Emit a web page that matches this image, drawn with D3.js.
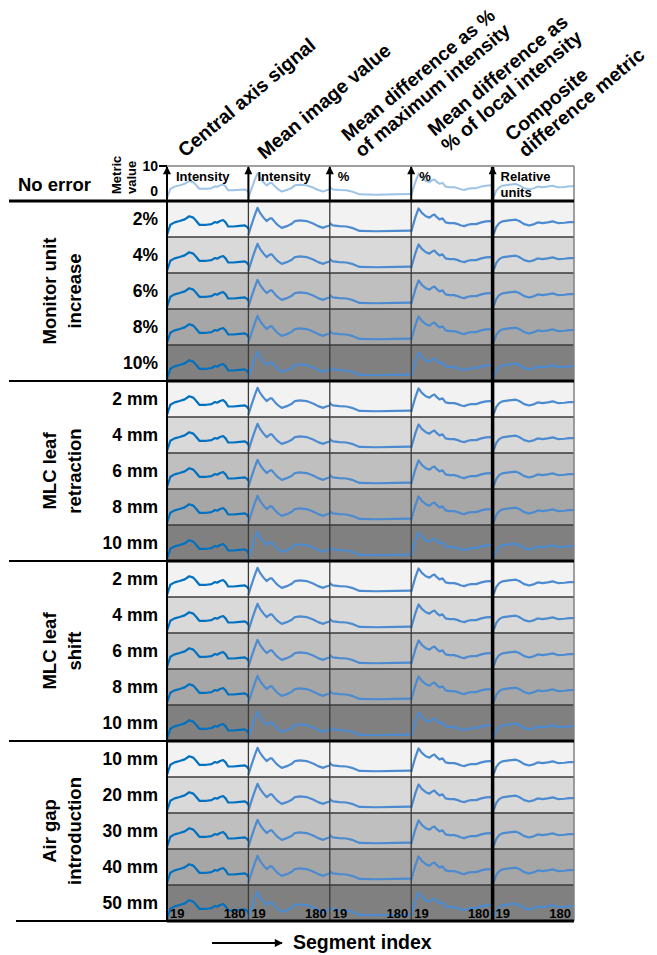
<!DOCTYPE html>
<html>
<head>
<meta charset="utf-8">
<script src="https://cdn.jsdelivr.net/npm/d3@7"></script>
<style>
  body { margin: 0; background: #fff; }
  svg text { font-family: Arial, "Liberation Sans", sans-serif; font-weight: bold; fill: #000; }
</style>
</head>
<body>
<div id="chart"></div>
<script>
// ---- data ----
const metrics = ['central', 'mean', 'diffMax', 'diffLocal', 'composite'];
const metricTitles = [
  ['Central axis signal'],
  ['Mean image value'],
  ['Mean difference as %', 'of maximum intensity'],
  ['Mean difference as', '% of local intensity'],
  ['Composite', 'difference metric']
];
const unitLabels = [['Intensity'], ['Intensity'], ['%'], ['%'], ['Relative', 'units']];

const groupNames = [['Monitor unit', 'increase'], ['MLC leaf', 'retraction'], ['MLC leaf', 'shift'], ['Air gap', 'introduction']];
const levels = [
  ['2%', '4%', '6%', '8%', '10%'],
  ['2 mm', '4 mm', '6 mm', '8 mm', '10 mm'],
  ['2 mm', '4 mm', '6 mm', '8 mm', '10 mm'],
  ['10 mm', '20 mm', '30 mm', '40 mm', '50 mm']
];
const headerLabel = 'No error';

const segTicks = [19, 180];
const metricTicks = [0, 10];

// segment index / metric value per metric
const segCentral = [19, 25.6, 34, 44, 54, 63, 71, 77, 83, 97, 107, 114, 118, 124, 130, 135, 140, 150, 163, 173, 178, 180];
const valCentral = [0.3, 3.3, 4.0, 4.4, 4.9, 5.8, 5.4, 4.4, 3.3, 3.3, 3.5, 4.1, 3.9, 4.4, 4.7, 4.0, 2.8, 2.8, 3.0, 3.1, 2.6, 2.1];

const segMean = [19, 23.6, 32, 37, 42, 49, 55, 62, 65, 72, 78, 85, 95, 104, 111, 121, 134, 147, 157, 167, 173, 180];
const valMean = [0.3, 2.6, 6.3, 8.3, 6.8, 5.4, 4.4, 5.2, 5.2, 4.0, 3.1, 2.4, 2.9, 3.5, 4.4, 4.6, 4.4, 3.7, 2.9, 2.4, 2.8, 3.1];

const segDiffMax = [19, 21, 25, 38, 52, 65, 78, 111, 150, 180];
const valDiffMax = [3.9, 3.5, 3.1, 2.9, 2.8, 2.3, 1.5, 1.4, 1.5, 1.6];

const segDiffLocal = [19, 21.6, 27, 33.6, 40, 48, 55, 61, 65, 69, 75, 81, 87, 94.5, 104, 111, 118, 124, 131, 138, 147.5, 157.5, 167, 177, 180];
const valDiffLocal = [1.2, 2.6, 5.4, 8.1, 6.8, 5.8, 5.4, 6.1, 6.3, 5.6, 4.9, 5.2, 4.0, 3.8, 3.8, 3.5, 3.1, 2.9, 3.3, 3.5, 3.5, 4.0, 4.3, 4.4, 4.4];

const segComposite = [20, 22, 26, 31.6, 38, 51.6, 65, 71.6, 81.5, 91.5, 101.5, 108, 118, 128, 138, 148, 161, 171, 180];
const valComposite = [0.5, 0.9, 2.6, 3.7, 4.3, 4.6, 4.8, 4.4, 3.5, 3.1, 3.5, 4.0, 3.8, 4.0, 4.3, 3.8, 3.9, 4.1, 4.1];

const seriesSeg = [segCentral, segMean, segDiffMax, segDiffLocal, segComposite];
const seriesVal = [valCentral, valMean, valDiffMax, valDiffLocal, valComposite];

// ---- layout ----
const width = 657, height = 955;
const gridLeft = 167, gridRight = 574;
const headTop = 166, headBottom = 201, rowH = 36;
const rowFills = ['#f2f2f2', '#d9d9d9', '#bfbfbf', '#a6a6a6', '#808080'];
const lineColors = ['#0070c0', '#4d8bd0', '#4d8bd0', '#4d8bd0', '#4d8bd0'];
const headLineColor = '#9dc3e6';

const svg = d3.select('#chart').append('svg')
  .attr('width', width)
  .attr('height', height);

const defs = svg.append('defs');
defs.append('marker')
  .attr('id', 'arrow')
  .attr('viewBox', '0 0 10 10')
  .attr('refX', 9).attr('refY', 5)
  .attr('markerWidth', 10).attr('markerHeight', 8)
  .attr('markerUnits', 'userSpaceOnUse')
  .attr('orient', 'auto')
  .append('path').attr('d', 'M0,0L10,5L0,10Z').attr('fill', '#000');

const col = d3.scaleBand().domain(metrics).range([gridLeft, gridRight]);
const nRows = groupNames.length * 5;
const rowY = d3.scaleLinear().domain([0, nRows]).range([headBottom, headBottom + nRows * rowH]);
const gridBottom = rowY(nRows);

const cellX = m => d3.scaleLinear().domain(segTicks).range([col(m), col(m) + col.bandwidth()]);

function drawCurves(g, yScale, colorFn, sw) {
  metrics.forEach((m, i) => {
    const x = cellX(m);
    const pts = seriesSeg[i].map((s, k) => [s, seriesVal[i][k]]);
    g.append('path')
      .datum(pts)
      .attr('fill', 'none')
      .attr('stroke', colorFn(i))
      .attr('stroke-width', sw)
      .attr('stroke-linejoin', 'round')
      .attr('d', d3.line().x(d => x(d[0])).y(d => yScale(d[1])));
  });
}

// ---- header row (no error) ----
const head = svg.append('g');
const headY = d3.scaleLinear().domain(metricTicks).range([headBottom - 2, headTop + 2]);
drawCurves(head, headY, () => headLineColor, 2);

head.append('line')
  .attr('x1', gridLeft - 8).attr('x2', gridRight)
  .attr('y1', headTop).attr('y2', headTop)
  .attr('stroke', '#808080').attr('stroke-width', 1.5);
head.append('line')
  .attr('x1', gridLeft - 8).attr('x2', gridLeft)
  .attr('y1', headTop).attr('y2', headTop)
  .attr('stroke', '#000').attr('stroke-width', 2);
head.append('line')
  .attr('x1', gridRight).attr('x2', gridRight)
  .attr('y1', headTop).attr('y2', headBottom)
  .attr('stroke', '#808080').attr('stroke-width', 1.5);

metrics.forEach((m, i) => {
  head.append('line')
    .attr('x1', col(m)).attr('x2', col(m))
    .attr('y1', headBottom).attr('y2', headTop + 1)
    .attr('stroke', '#000')
    .attr('stroke-width', i === 4 ? 3.5 : 2)
    .attr('marker-end', 'url(#arrow)');
  unitLabels[i].forEach((t, j) => {
    head.append('text')
      .attr('x', col(m) + (i < 2 ? 9 : 8))
      .attr('y', headTop + 15 + j * 16)
      .attr('font-size', 13)
      .text(t);
  });
});

head.selectAll('.mtick')
  .data(metricTicks)
  .join('text')
  .attr('x', gridLeft - 9)
  .attr('y', d => d === 0 ? headY(d) - 3 : headY(d) + 3)
  .attr('text-anchor', 'end')
  .attr('font-size', 14)
  .text(d => d);

const mv = head.append('g').attr('transform', `translate(121,${headBottom - 7}) rotate(-90)`);
mv.append('text').attr('font-size', 13).text('Metric');
mv.append('text').attr('y', 15).attr('font-size', 13).text('value');

head.append('text')
  .attr('x', 18).attr('y', (headTop + headBottom) / 2 + 7)
  .attr('font-size', 18.5)
  .text(headerLabel);

// ---- data rows ----
const body = svg.append('g');
levels.forEach((lv, gi) => {
  lv.forEach((label, li) => {
    const r = gi * 5 + li;
    const top = rowY(r), bot = rowY(r + 1);
    body.append('rect')
      .attr('x', gridLeft).attr('y', top)
      .attr('width', gridRight - gridLeft).attr('height', rowH)
      .attr('fill', rowFills[li]);
    const y = d3.scaleLinear().domain(metricTicks).range([bot - 1, top + 1]);
    drawCurves(body, y, i => lineColors[i], 2.2);
    body.append('text')
      .attr('x', 158).attr('y', (top + bot) / 2 + 6)
      .attr('text-anchor', 'end')
      .attr('font-size', 17.5)
      .text(label);
  });
});

// row separators
const seps = d3.range(1, nRows);
body.selectAll('.rowsep')
  .data(seps.filter(d => d % 5 !== 0))
  .join('line')
  .attr('x1', gridLeft).attr('x2', gridRight)
  .attr('y1', d => rowY(d)).attr('y2', d => rowY(d))
  .attr('stroke', '#3a3a3a').attr('stroke-width', 1.3);

// column separators
metrics.forEach((m, i) => {
  body.append('line')
    .attr('x1', col(m)).attr('x2', col(m))
    .attr('y1', headBottom).attr('y2', gridBottom)
    .attr('stroke', i === 0 || i === 4 ? '#000' : '#3a3a3a')
    .attr('stroke-width', i === 4 ? 3.5 : (i === 0 ? 2 : 1.3));
});
body.append('line')
  .attr('x1', gridRight).attr('x2', gridRight)
  .attr('y1', headBottom).attr('y2', gridBottom)
  .attr('stroke', '#808080').attr('stroke-width', 1.5);

// group separators
const groupEdges = d3.range(0, groupNames.length + 1).map(g => g * 5);
groupEdges.forEach((r, k) => {
  const y = rowY(r);
  body.append('line')
    .attr('x1', k === groupEdges.length - 1 ? 16 : 9).attr('x2', gridLeft)
    .attr('y1', y).attr('y2', y)
    .attr('stroke', '#000').attr('stroke-width', k === 0 ? 3 : 1.8);
  body.append('line')
    .attr('x1', gridLeft).attr('x2', gridRight)
    .attr('y1', y).attr('y2', y)
    .attr('stroke', '#000').attr('stroke-width', 3);
});

// group labels
groupNames.forEach((lines, gi) => {
  const yc = (rowY(gi * 5) + rowY(gi * 5 + 5)) / 2;
  const g = body.append('g').attr('transform', `translate(56,${yc}) rotate(-90)`);
  lines.forEach((t, j) => {
    g.append('text')
      .attr('y', j * 25)
      .attr('text-anchor', 'middle')
      .attr('font-size', 18.5)
      .text(t);
  });
});

// segment tick labels on the bottom row
metrics.forEach(m => {
  const x = cellX(m);
  body.selectAll(null)
    .data(segTicks)
    .join('text')
    .attr('x', (d, k) => k === 0 ? x(d) + 3 : x(d) - 3)
    .attr('y', gridBottom - 3)
    .attr('text-anchor', (d, k) => k === 0 ? 'start' : 'end')
    .attr('font-size', 13)
    .attr('font-weight', 'normal')
    .text(d => d);
});

// ---- column titles ----
const titleOffsets = [[18, 158], [16, 160], [32, 158], [37, 153], [33, 158]];
const titleSizes = [19.5, 19.5, 19, 19.5, 19.5];
metrics.forEach((m, i) => {
  const g = svg.append('g')
    .attr('transform', `translate(${col(m) + titleOffsets[i][0]},${titleOffsets[i][1]}) rotate(-40)`);
  const lines = metricTitles[i];
  lines.forEach((t, j) => {
    g.append('text')
      .attr('y', (j - (lines.length - 1)) * 21)
      .attr('font-size', titleSizes[i])
      .text(t);
  });
});

// ---- x direction label ----
svg.append('line')
  .attr('x1', 212).attr('x2', 282)
  .attr('y1', 943).attr('y2', 943)
  .attr('stroke', '#000').attr('stroke-width', 1.8)
  .attr('marker-end', 'url(#arrow)');
svg.append('text')
  .attr('x', 293).attr('y', 949)
  .attr('font-size', 19.5)
  .text('Segment index');
</script>
</body>
</html>
